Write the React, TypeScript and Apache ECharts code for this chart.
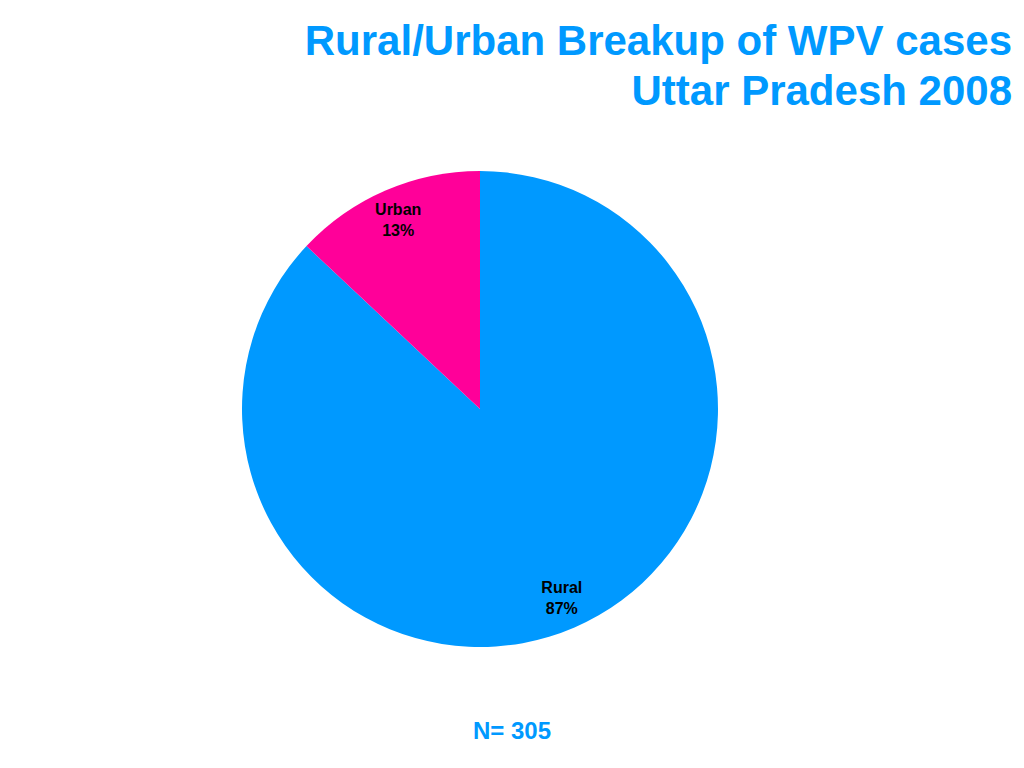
import React, { useEffect, useRef } from "react";
import * as echarts from "echarts";

const titleLines = ["Rural/Urban Breakup of WPV cases", "Uttar Pradesh 2008"];
const categories = ["Rural", "Urban"];
const values = [87, 13];
const colors = ["#0099FF", "#FF0099"];
const footnote = "N= 305";

export default function App() {
  const ref = useRef<HTMLDivElement>(null);
  useEffect(() => {
    document.body.style.margin = "0";
    if (!ref.current) return;
    const chart = echarts.init(ref.current, null, { renderer: "svg" });
    const data = categories.map((name, i) => ({
      name,
      value: values[i],
      itemStyle: { color: colors[i] },
    }));
    const font = "Liberation Sans, Arial, sans-serif";
    chart.setOption({
      animation: false,
      backgroundColor: "#ffffff",
      graphic: titleLines.map((line, i) => ({
        type: "text",
        x: 1012,
        y: 40 + i * 50,
        style: {
          text: line,
          textAlign: "right",
          textVerticalAlign: "middle",
          fontFamily: font,
          fontWeight: "bold",
          fontSize: 42,
          fill: "#0099FF",
        },
      })),
      title: [
        {
          text: footnote,
          left: "center",
          top: 713,
          textStyle: {
            fontFamily: font,
            fontWeight: "bold",
            fontSize: 24,
            color: "#0099FF",
          },
        },
      ],
      series: [
        {
          type: "pie",
          center: [480, 409],
          radius: [0, 238],
          startAngle: 90,
          clockwise: true,
          silent: true,
          label: { show: false },
          labelLine: { show: false },
          emphasis: { disabled: true },
          itemStyle: { borderWidth: 0 },
          data,
        },
        {
          type: "pie",
          center: [480, 409],
          radius: [168, 238],
          startAngle: 90,
          clockwise: true,
          silent: true,
          emphasis: { disabled: true },
          itemStyle: { color: "transparent", borderWidth: 0 },
          labelLine: { show: false },
          label: {
            show: true,
            position: "inside",
            formatter: "{b}\n{d}%",
            fontFamily: font,
            fontWeight: "bold",
            fontSize: 16,
            lineHeight: 21,
            color: "#000000",
          },
          data: categories.map((name, i) => ({
            name,
            value: values[i],
            itemStyle: { color: "transparent" },
          })),
        },
      ],
    });
    return () => chart.dispose();
  }, []);
  return <div ref={ref} style={{ width: 1024, height: 768 }} />;
}
